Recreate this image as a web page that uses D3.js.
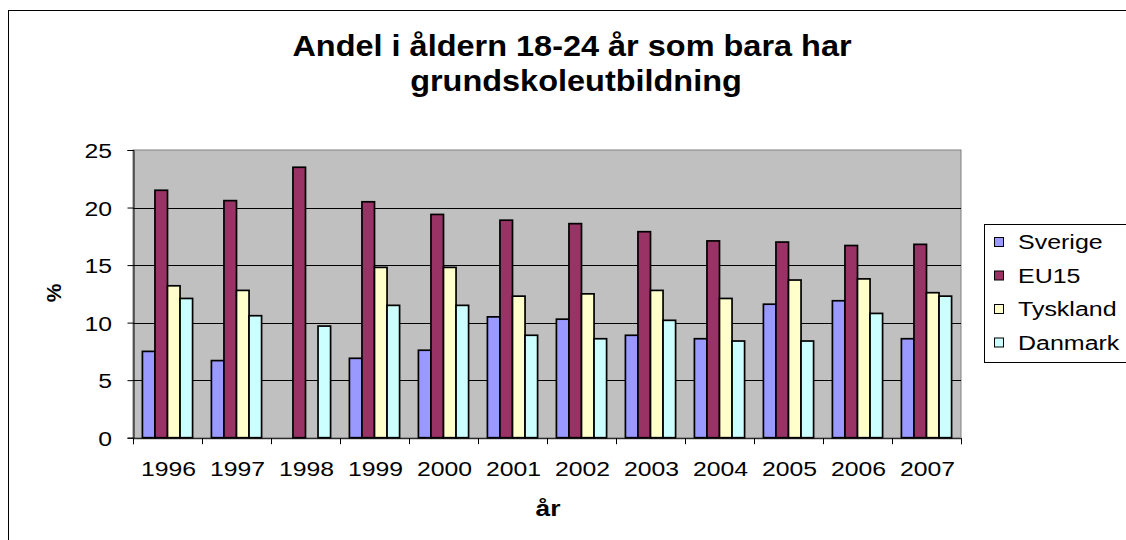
<!DOCTYPE html>
<html>
<head>
<meta charset="utf-8">
<script src="https://cdn.jsdelivr.net/npm/d3@7"></script>
<style>
  body { margin: 0; background: #fff; }
  text { font-family: "Liberation Sans", Arial, sans-serif; fill: #000; }
</style>
</head>
<body>
<div id="chart"></div>
<script>
// data
const years = ["1996","1997","1998","1999","2000","2001","2002","2003","2004","2005","2006","2007"];
const seriesNames = ["Sverige", "EU15", "Tyskland", "Danmark"];
const sverige  = [7.5, 6.7, null, 6.9, 7.6, 10.5, 10.3, 8.9, 8.6, 11.6, 11.9, 8.6];
const eu15     = [21.5, 20.6, 23.5, 20.5, 19.4, 18.9, 18.6, 17.9, 17.1, 17.0, 16.7, 16.8];
const tyskland = [13.2, 12.8, null, 14.8, 14.8, 12.3, 12.5, 12.8, 12.1, 13.7, 13.8, 12.6];
const danmark  = [12.1, 10.6, 9.7, 11.5, 11.5, 8.9, 8.6, 10.2, 8.4, 8.4, 10.8, 12.3];
const yTicks = [0, 5, 10, 15, 20, 25];
const colors = ["#9999FF", "#993366", "#FFFFCC", "#CCFFFF"];

const W = 1126, H = 540;

const svg = d3.select("#chart").append("svg")
    .attr("width", W).attr("height", H);

// outer chart border (runs off the right and bottom edge)
svg.append("rect")
    .attr("x", 8.5).attr("y", 10.5)
    .attr("width", 1200).attr("height", 600)
    .style("fill", "#fff").style("stroke", "#000").style("stroke-width", 1);

// the picture is stretched sideways, so text gets an x scale
function label(x, y, str, size, bold, anchor, sx) {
  return svg.append("text")
    .attr("transform", `translate(${x},${y}) scale(${sx || 1.2},1)`)
    .attr("text-anchor", anchor || "middle")
    .style("font-size", size + "px")
    .style("font-weight", bold ? "bold" : "normal")
    .text(str);
}

// title
label(572, 56, "Andel i åldern 18-24 år som bara har", 29, true, "middle", 1.12);
label(576, 91, "grundskoleutbildning", 29, true, "middle", 1.12);

// scales
const plot = { left: 133, right: 961, top: 150, bottom: 437.7 };
const x0 = d3.scaleBand().domain(years).range([plot.left, plot.right]).paddingInner(0).paddingOuter(0);
const x1 = d3.scaleBand().domain(seriesNames).range([0, x0.bandwidth()]).paddingInner(0).paddingOuter(0.75);
const y = d3.scaleLinear().domain([0, 25]).range([plot.bottom, plot.top]);

// plot area
svg.append("rect")
    .attr("x", plot.left).attr("y", plot.top)
    .attr("width", plot.right - plot.left).attr("height", plot.bottom - plot.top)
    .style("fill", "#C0C0C0").style("stroke", "#808080").style("stroke-width", 1);

// gridlines
svg.append("g").selectAll("line")
    .data(yTicks.filter(d => d > 0 && d < 25))
    .enter().append("line")
    .attr("x1", plot.left).attr("x2", plot.right)
    .attr("y1", d => Math.round(y(d)) + 0.5).attr("y2", d => Math.round(y(d)) + 0.5)
    .style("stroke", "#000").style("stroke-width", 1);

// bars
const seriesData = [sverige, eu15, tyskland, danmark];
seriesData.forEach((vals, si) => {
  svg.append("g").selectAll("rect")
    .data(years.map((yr, i) => ({ yr: yr, v: vals[i] })).filter(d => d.v !== null))
    .enter().append("rect")
    .attr("x", d => x0(d.yr) + x1(seriesNames[si]))
    .attr("y", d => y(d.v))
    .attr("width", x1.bandwidth())
    .attr("height", d => y(0) - y(d.v))
    .style("fill", colors[si])
    .style("stroke", "#000").style("stroke-width", 1.7);
});

// y axis
const yAxis = d3.axisLeft(y).tickValues(yTicks).tickSize(6).tickFormat("");
const yg = svg.append("g").attr("transform", `translate(${plot.left + 0.5},0)`).call(yAxis);
yg.select(".domain").attr("stroke", "#000");
yTicks.forEach(t => label(112, y(t) + 8, String(t), 21, false, "end", 1.18));

// x axis
const xBounds = years.map(d => x0(d)).concat([plot.right]);
const xAxis = d3.axisBottom(d3.scaleLinear().domain([plot.left, plot.right]).range([plot.left, plot.right]))
    .tickValues(xBounds).tickSize(6).tickFormat("");
const xg = svg.append("g").attr("transform", `translate(0,${plot.bottom + 0.5})`).call(xAxis);
xg.select(".domain").attr("stroke", "#000");
years.forEach(yr => label(x0(yr) + x0.bandwidth() / 2 + 1, 476, yr, 21, false, "middle", 1.18));

// axis titles
label(548, 516, "år", 22, true, "middle", 1.2);
svg.append("text")
    .attr("transform", "translate(61,293) rotate(-90)")
    .attr("text-anchor", "middle")
    .style("font-size", "21px").style("font-weight", "bold")
    .text("%");

// legend
const lg = svg.append("g");
lg.append("rect")
    .attr("x", 984.5).attr("y", 224.5).attr("width", 200).attr("height", 138)
    .style("fill", "#fff").style("stroke", "#000").style("stroke-width", 1);
seriesNames.forEach((name, i) => {
  const cy = 242 + i * 33.5;
  lg.append("rect")
    .attr("x", 994.5).attr("y", cy - 4.5).attr("width", 9).attr("height", 9)
    .style("fill", colors[i]).style("stroke", "#000").style("stroke-width", 1);
  label(1018, cy + 7, name, 20, false, "start", 1.25);
});
</script>
</body>
</html>
